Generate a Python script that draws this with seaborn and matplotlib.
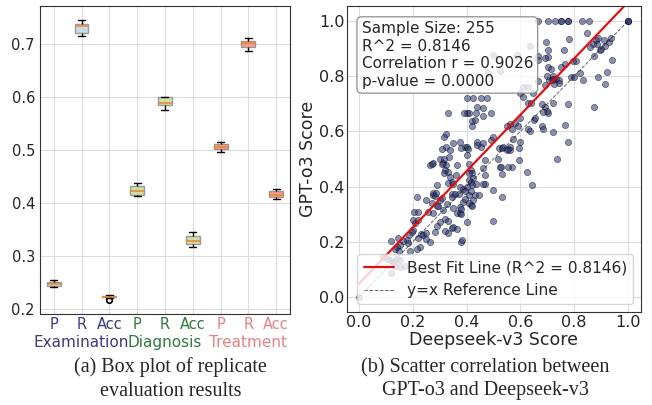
import matplotlib
matplotlib.use("Agg")
import matplotlib.pyplot as plt
import pandas as pd
import seaborn as sns

# =========================
# DATA
# =========================
# (a) replicate scores for each metric
exam_p = [0.2409, 0.2434, 0.2472, 0.2509, 0.2534]
exam_r = [0.716, 0.722, 0.7345, 0.739, 0.745]
exam_acc = [0.2165, 0.2206, 0.2212, 0.2220, 0.2228, 0.2233, 0.2240, 0.2246, 0.2252]
diag_p = [0.412, 0.415, 0.423, 0.431, 0.438]
diag_r = [0.5755, 0.5855, 0.588, 0.5994, 0.6006]
diag_acc = [0.3164, 0.3221, 0.3283, 0.3364, 0.3447]
treat_p = [0.4957, 0.5013, 0.5063, 0.5113, 0.5145]
treat_r = [0.6868, 0.6951, 0.7013, 0.7063, 0.7119]
treat_acc = [0.4075, 0.4119, 0.4151, 0.4232, 0.4264]

metric_labels = ["P", "R", "Acc", "P", "R", "Acc", "P", "R", "Acc"]
group_names = ["Examination", "Diagnosis", "Treatment"]
group_colors = ["#3a3a8c", "#2e7d3a", "#f08080"]
box_colors = ["lightblue", "#b8d99a", "salmon"]

# (b) per-case scores (Deepseek-v3 vs GPT-o3)
deepseek = [
    0.667, 0.704, 0.728, 0.75, 0.75, 0.777, 0.777, 0.83, 0.855, 1.0, 1.0, 1.0,
    0.696, 0.782, 0.849, 0.88, 0.89, 0.885, 0.87, 0.857, 0.895, 0.91, 0.915, 0.93, 0.9, 0.935,
    0.762, 0.704, 0.704, 0.69, 0.808, 0.796, 0.874, 0.94, 0.767, 0.751, 0.704, 0.715,
    0.722, 0.733, 0.745, 0.745, 0.725, 0.717, 0.707, 0.70, 0.72,
    0.787, 0.80, 0.823, 0.831, 0.889, 0.922, 0.916, 0.69,
    0.721, 0.777, 0.704, 0.874, 0.765, 0.721, 0.777, 0.735, 0.623, 0.642,
    0.636, 0.611, 0.63, 0.611, 0.63, 0.64, 0.68, 0.69, 0.70, 0.685,
    0.40, 0.425, 0.452, 0.44, 0.46, 0.475,
    0.40, 0.41, 0.392, 0.436, 0.46, 0.49, 0.332,
    0.42, 0.43, 0.42,
    0.56, 0.55, 0.58, 0.59, 0.57, 0.60, 0.65, 0.655, 0.63, 0.635, 0.68, 0.685,
    0.375, 0.395, 0.40, 0.38, 0.44, 0.44, 0.455, 0.49, 0.52, 0.53, 0.535, 0.56, 0.555, 0.60,
    0.323, 0.316, 0.323, 0.307, 0.351, 0.338, 0.303, 0.313, 0.336, 0.323, 0.32, 0.317,
    0.332, 0.338, 0.363, 0.361, 0.345, 0.332, 0.274, 0.264, 0.27, 0.289, 0.274, 0.214,
    0.40, 0.406, 0.41, 0.415, 0.42, 0.41, 0.425, 0.41, 0.415, 0.435, 0.40,
    0.462, 0.468, 0.468, 0.468, 0.50, 0.50, 0.462, 0.518, 0.524, 0.53,
    0.574, 0.593, 0.593, 0.549, 0.561, 0.568, 0.53, 0.528, 0.555,
    0.35, 0.375, 0.385, 0.395, 0.41, 0.415, 0.42, 0.462, 0.497,
    0.274, 0.283, 0.27, 0.249, 0.289, 0.295, 0.258, 0.276, 0.313, 0.318, 0.30, 0.289,
    0.283, 0.239, 0.251, 0.23, 0.221, 0.251, 0.202, 0.208, 0.199, 0.221, 0.205, 0.221,
    0.196, 0.187, 0.177, 0.183, 0.164, 0.152, 0.142, 0.133, 0.148, 0.12, 0.146, 0.19,
    0.226, 0.214, 0.264,
    0.345, 0.351, 0.363, 0.332, 0.381, 0.363, 0.375, 0.388, 0.394, 0.40, 0.425, 0.415,
    0.375, 0.345, 0.357, 0.37, 0.30, 0.307, 0.345, 0.327, 0.351,
    0.382, 0.32, 0.33, 0.38, 0.38, 0.41, 0.42, 0.43, 0.445, 0.285, 0.31, 0.316,
    0.103, 0.115, 0.127, 0.14, 0.152, 0.134, 0.152, 0.171, 0.118, 0.091, 0.0,
    0.5, 0.586, 0.667, 0.667, 0.524, 0.481, 0.667, 0.599, 0.648,
]
gpt_o3 = [
    1.0, 1.0, 1.0, 1.0, 1.0, 1.0, 1.0, 1.0, 1.0, 1.0, 1.0, 1.0,
    0.925, 0.934, 0.955, 0.93, 0.94, 0.915, 0.915, 0.905, 0.895, 0.93, 0.91, 0.925, 0.9, 0.94,
    0.895, 0.895, 0.87, 0.867, 0.855, 0.855, 0.873, 0.859, 0.843, 0.833, 0.834, 0.825,
    0.80, 0.79, 0.785, 0.775, 0.77, 0.785, 0.785, 0.80, 0.79,
    0.798, 0.798, 0.81, 0.787, 0.798, 0.816, 0.771, 0.768,
    0.704, 0.698, 0.667, 0.687, 0.623, 0.597, 0.562, 0.499, 0.454, 0.406,
    0.909, 0.76, 0.76, 0.726, 0.704, 0.704, 0.70, 0.69, 0.675, 0.67,
    0.722, 0.722, 0.72, 0.69, 0.685, 0.72,
    0.667, 0.667, 0.667, 0.667, 0.657, 0.667, 0.667,
    0.637, 0.64, 0.62,
    0.626, 0.62, 0.63, 0.62, 0.61, 0.647, 0.64, 0.65, 0.61, 0.60, 0.62, 0.61,
    0.56, 0.545, 0.545, 0.54, 0.56, 0.55, 0.545, 0.57, 0.54, 0.54, 0.545, 0.545, 0.535, 0.56,
    0.589, 0.581, 0.545, 0.535, 0.557, 0.533, 0.499, 0.485, 0.508, 0.479, 0.46, 0.45,
    0.454, 0.436, 0.479, 0.442, 0.418, 0.414, 0.484, 0.478, 0.48, 0.406, 0.369, 0.363,
    0.514, 0.535, 0.48, 0.46, 0.45, 0.45, 0.43, 0.425, 0.415, 0.41, 0.40,
    0.466, 0.496, 0.441, 0.411, 0.387, 0.581, 0.557, 0.499, 0.472, 0.447,
    0.574, 0.539, 0.496, 0.533, 0.533, 0.472, 0.362, 0.47, 0.47,
    0.41, 0.40, 0.39, 0.385, 0.37, 0.385, 0.405, 0.409, 0.277,
    0.375, 0.366, 0.339, 0.351, 0.33, 0.33, 0.309, 0.303, 0.315, 0.281, 0.273, 0.257,
    0.237, 0.225, 0.231, 0.228, 0.212, 0.21, 0.243, 0.267, 0.279, 0.279, 0.309, 0.309,
    0.237, 0.225, 0.207, 0.195, 0.201, 0.189, 0.18, 0.174, 0.168, 0.201, 0.213, 0.168,
    0.18, 0.174, 0.20,
    0.251, 0.255, 0.248, 0.233, 0.20, 0.303, 0.327, 0.343, 0.355, 0.27, 0.353, 0.333,
    0.303, 0.372, 0.372, 0.372, 0.351, 0.36, 0.361, 0.336, 0.324,
    0.207, 0.24, 0.275, 0.30, 0.32, 0.34, 0.33, 0.37, 0.37, 0.377, 0.48, 0.50,
    0.137, 0.134, 0.128, 0.137, 0.134, 0.113, 0.108, 0.113, 0.086, 0.146, 0.0,
    0.877, 0.877, 0.872, 0.86, 0.817, 0.811, 0.781, 0.738, 0.738,
]

# reported statistics / fitted line
n_samples = 255
r_squared = 0.8146
corr_r = 0.9026
p_value = 0.0
fit_slope = 1.02
fit_intercept = 0.048
line_x = [0.0, 1.0]

# =========================
# STYLE
# =========================
sns.set_style("ticks")
plt.rcParams["font.family"] = ["DejaVu Sans"]
plt.rcParams["axes.edgecolor"] = "#333333"

fig = plt.figure(figsize=(6.52, 4.05), dpi=100)
ax1 = fig.add_axes([0.061, 0.225, 0.384, 0.760])
ax2 = fig.add_axes([0.532, 0.230, 0.451, 0.755])

# =========================
# (a) BOX PLOT
# =========================
all_scores = [exam_p, exam_r, exam_acc, diag_p, diag_r, diag_acc, treat_p, treat_r, treat_acc]
rows = []
order = []
palette = {}
for i, scores in enumerate(all_scores):
    key = f"{group_names[i // 3]}-{metric_labels[i]}"
    order.append(key)
    palette[key] = box_colors[i // 3]
    for s in scores:
        rows.append({"metric": key, "score": s})
box_df = pd.DataFrame(rows)

sns.boxplot(
    data=box_df, x="metric", y="score", hue="metric", order=order, hue_order=order,
    palette=palette, legend=False, width=0.5, saturation=1, linewidth=1,
    linecolor="black",
    boxprops=dict(edgecolor="gray", alpha=0.75),
    medianprops=dict(color="#ff7f0e", linewidth=1.1),
    flierprops=dict(marker="o", markerfacecolor="none", markeredgecolor="black",
                    markersize=4, markeredgewidth=1.2),
    ax=ax1,
)
ax1.set_ylim(0.19, 0.772)
ax1.set_yticks([0.2, 0.3, 0.4, 0.5, 0.6, 0.7])
ax1.tick_params(axis="y", labelsize=10.5, length=0, pad=3.5)
ax1.set_xticks(range(len(order)))
ax1.set_xticklabels(metric_labels, fontsize=10.5)
for i, lab in enumerate(ax1.get_xticklabels()):
    lab.set_color(group_colors[i // 3])
ax1.tick_params(axis="x", length=0, pad=2)
ax1.set_xlabel("")
ax1.set_ylabel("")
ax1.grid(True, color="#dddddd", linewidth=0.8)
ax1.set_axisbelow(True)
for g, name in enumerate(group_names):
    ax1.text(3 * g + 1, -0.092, name, color=group_colors[g], fontsize=11,
             ha="center", va="center", transform=ax1.get_xaxis_transform())

# =========================
# (b) SCATTER
# =========================
scatter_df = pd.DataFrame({"Deepseek-v3": deepseek, "GPT-o3": gpt_o3})
sns.scatterplot(data=scatter_df, x="Deepseek-v3", y="GPT-o3", color="#26357a",
                alpha=0.55, s=20, edgecolor="black", linewidth=0.5, ax=ax2)
fit_y = [fit_slope * v + fit_intercept for v in line_x]
ax2.plot(line_x, fit_y, color="red", linewidth=1.5,
         label=f"Best Fit Line (R^2 = {r_squared:.4f})")
ax2.plot(line_x, line_x, color="black", linestyle="--", linewidth=0.7, alpha=0.6,
         label="y=x Reference Line")
ax2.set_xlim(-0.045, 1.048)
ax2.set_ylim(-0.054, 1.054)
ax2.set_xticks([0.0, 0.2, 0.4, 0.6, 0.8, 1.0])
ax2.set_yticks([0.0, 0.2, 0.4, 0.6, 0.8, 1.0])
ax2.tick_params(labelsize=11.5, length=0)
ax2.tick_params(axis="x", pad=2)
ax2.tick_params(axis="y", pad=1.5)
ax2.set_xlabel("Deepseek-v3 Score", fontsize=12.5, labelpad=1)
ax2.set_ylabel("GPT-o3 Score", fontsize=12.5, labelpad=2)
ax2.grid(True, color="#dddddd", linewidth=0.8)
ax2.set_axisbelow(True)

stats_text = (f"Sample Size: {n_samples}\nR^2 = {r_squared:.4f}\n"
              f"Correlation r = {corr_r:.4f}\np-value = {p_value:.4f}")
ax2.text(0.05, 0.95, stats_text, transform=ax2.transAxes, fontsize=11,
         va="top", ha="left",
         bbox=dict(boxstyle="round", facecolor="white", edgecolor="gray", alpha=0.8))
ax2.legend(loc="lower right", fontsize=11.1, framealpha=0.8)

# =========================
# CAPTIONS
# =========================
fig.text(0.262, 0.064, "(a) Box plot of replicate\nevaluation results",
         ha="center", va="center", fontsize=14.5, family="Liberation Serif",
         linespacing=1.3)
fig.text(0.744, 0.064, "(b) Scatter correlation between\nGPT-o3 and Deepseek-v3",
         ha="center", va="center", fontsize=14.5, family="Liberation Serif",
         linespacing=1.3)

fig.savefig("out.png", dpi=100)
